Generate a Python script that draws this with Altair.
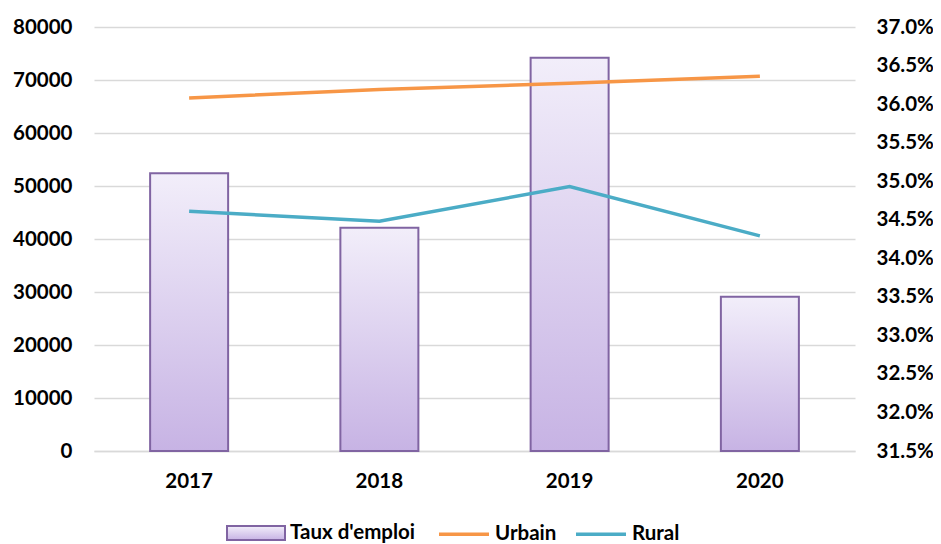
import altair as alt
import pandas as pd

years = ["2017", "2018", "2019", "2020"]
taux = [52400, 42100, 74200, 29100]
urbain = [0.3608, 0.3619, 0.3627, 0.3636]
rural = [0.3461, 0.3448, 0.3493, 0.3429]
y_left_ticks = [0, 10000, 20000, 30000, 40000, 50000, 60000, 70000, 80000]
y_right_ticks = [0.315, 0.32, 0.325, 0.33, 0.335, 0.34, 0.345, 0.35, 0.355, 0.36, 0.365, 0.37]

FONT = "Lato"
FS = 20.5

bar_df = pd.DataFrame({"year": years, "taux": taux, "lbl": ["Taux d'emploi"] * 4})
line_df = pd.DataFrame({
    "year": years * 2,
    "value": urbain + rural,
    "series": ["Urbain"] * 4 + ["Rural"] * 4,
})

xscale = alt.Scale(domain=years, paddingInner=0.59, paddingOuter=0.295)
xaxis = alt.Axis(title=None, labelFont=FONT, labelFontSize=FS, labelFontWeight="bold",
                 labelColor="#000000", labelPadding=20, ticks=False, domain=True,
                 domainColor="#d9d9d9", domainWidth=1.5, labelAngle=0, grid=False)

grad = alt.Gradient(
    gradient="linear",
    stops=[alt.GradientStop(color="#f2eefa", offset=0),
           alt.GradientStop(color="#c7b3e4", offset=1)],
    x1=0, x2=0, y1=0, y2=1,
)

LEG_Y = 505  # centre line of legend row, relative to plot top

bars = alt.Chart(bar_df).mark_bar(fill=grad, stroke="#8064a2", strokeWidth=2).encode(
    x=alt.X("year:N", scale=xscale, axis=xaxis),
    y=alt.Y("taux:Q", scale=alt.Scale(domain=[0, 80000], nice=False),
            axis=alt.Axis(title=None, values=y_left_ticks, format="d", labelFont=FONT,
                          labelFontSize=FS, labelFontWeight="bold", labelColor="#000000",
                          labelPadding=22, ticks=False, domain=False, grid=True,
                          gridColor="#d9d9d9", gridWidth=1.5, orient="left")),
    opacity=alt.Opacity("lbl:N", scale=alt.Scale(domain=["Taux d'emploi"], range=[1]),
                        legend=alt.Legend(title=None, orient="none", legendX=132, legendY=LEG_Y - 29,
                                          symbolType="M-1,-0.24H1V0.24H-1Z", symbolSize=3364,
                                          symbolStrokeWidth=2, labelFont=FONT, labelFontSize=FS,
                                          labelFontWeight="bold", labelColor="#000000",
                                          labelOffset=4, padding=0)),
)

lines = alt.Chart(line_df).mark_line(strokeWidth=3.5).encode(
    x=alt.X("year:N", scale=xscale, axis=xaxis),
    y=alt.Y("value:Q", scale=alt.Scale(domain=[0.315, 0.37], nice=False, zero=False),
            axis=alt.Axis(title=None, values=y_right_ticks, format=".1%", labelFont=FONT,
                          labelFontSize=FS, labelFontWeight="bold", labelColor="#000000",
                          labelPadding=21, ticks=False, domain=False, grid=False, orient="right")),
    stroke=alt.Stroke("series:N", scale=alt.Scale(domain=["Urbain", "Rural"], range=["#f79646", "#4bacc6"]),
                      legend=alt.Legend(title=None, orient="none", legendX=343, legendY=LEG_Y - 25,
                                        direction="horizontal", symbolType="stroke", symbolSize=2500,
                                        symbolStrokeWidth=3.5, labelFont=FONT, labelFontSize=FS,
                                        labelFontWeight="bold", labelColor="#000000", labelOffset=4,
                                        columnPadding=12, padding=0)),
)

chart = alt.layer(bars, lines).resolve_scale(y="independent", opacity="independent", stroke="independent").properties(
    width=761, height=424,
    autosize=alt.AutoSizeParams(type="none"),
    padding={"left": 86, "top": 19, "right": 78, "bottom": 93},
).configure_view(stroke=None)

chart.save("out.html", embed_options={"renderer": "svg", "actions": False})
